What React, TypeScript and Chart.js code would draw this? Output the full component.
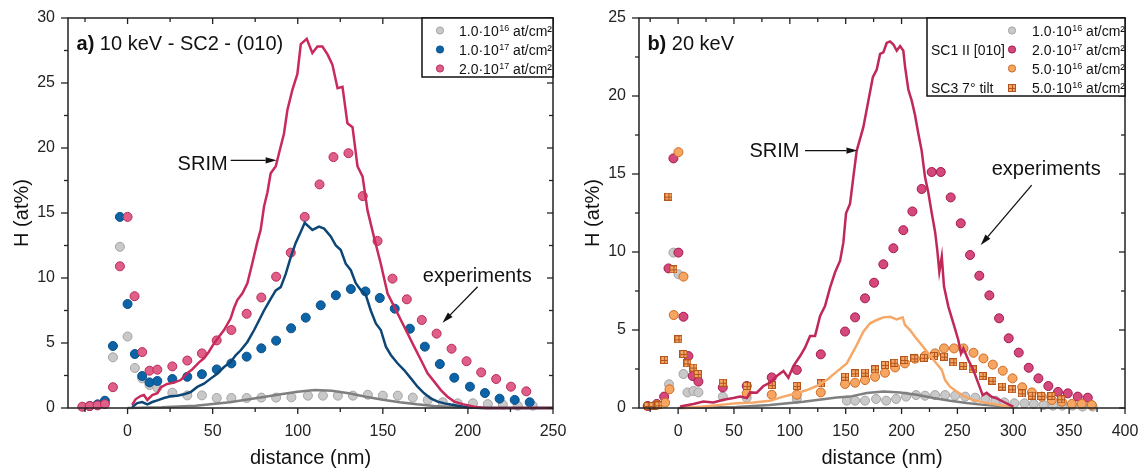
import React, { useEffect, useRef } from "react";
import { Chart, registerables } from "chart.js";
Chart.register(...registerables);

const FONT = "'Liberation Sans', Arial, sans-serif";
const AXIS_COLOR = "#222";
const TEXT_COLOR = "#111";

// ---------- Panel a) 10 keV ----------
const xTicksA = [0, 50, 100, 150, 200, 250];
const xMinorA = [-25, 25, 75, 125, 175, 225];
const yTicksA = [0, 5, 10, 15, 20, 25, 30];
const yMinorA = [2.5, 7.5, 12.5, 17.5, 22.5, 27.5];

const aPinkX = [-26.6, -22.2, -17.6, -13.3, -8.6, -4.5, 0, 4.1, 8.6, 12.9, 17.5, 26.3, 35.1, 43.7, 52.4, 61, 70, 78.6, 87.3, 95.9, 104.1, 112.8, 121, 129.8, 138.2, 146.9, 155.7, 164.1, 172.9, 181.6, 190.4, 199.2, 207.8, 216.6, 225.3, 234.3];
const aPinkY = [0.1, 0.15, 0.2, 0.3, 1.6, 10.9, 14.7, 8.6, 4.3, 2.87, 2.95, 3.2, 3.65, 4.2, 5.2, 6.0, 7.25, 8.5, 10.1, 11.95, 14.7, 17.2, 19.3, 19.6, 16.3, 12.85, 9.95, 8.36, 6.77, 5.72, 4.56, 3.6, 2.74, 2.23, 1.64, 1.28];

const aBlueX = [-22.2, -17.6, -13.3, -8.6, -4.5, 0, 4.3, 8.6, 12.9, 17.5, 26.3, 35.1, 43.7, 52.4, 61, 70, 78.6, 87.3, 96.1, 104.7, 113.5, 122.4, 131.2, 139.8, 148.2, 157, 165.9, 174.7, 183.5, 192, 201.2, 210, 218.6, 227.5, 236.3];
const aBlueY = [0.15, 0.28, 0.56, 4.77, 14.7, 8.0, 4.15, 2.46, 1.97, 2.08, 2.23, 2.4, 2.6, 2.97, 3.43, 3.95, 4.59, 5.18, 6.13, 6.95, 7.9, 8.67, 9.15, 8.97, 8.46, 7.64, 6.1, 4.72, 3.38, 2.33, 1.64, 1.15, 0.72, 0.62, 0.44];

const aGreyX = [-8.6, -4.5, 0, 4.3, 8.6, 12.9, 17.5, 26.3, 35.1, 43.7, 52.4, 61, 70, 78.6, 87.3, 96.3, 106, 114.8, 123.6, 132.4, 141.2, 150, 158.8, 167.6, 176.4, 185.2, 194, 202.9, 211.7, 220.5, 229.3, 238.1];
const aGreyY = [3.9, 12.4, 5.5, 3.08, 2.28, 1.77, 1.56, 1.18, 0.97, 0.97, 0.77, 0.77, 0.77, 0.8, 0.8, 0.82, 0.95, 0.95, 0.95, 0.95, 1.02, 0.95, 0.95, 0.8, 0.62, 0.44, 0.36, 0.36, 0.3, 0.26, 0.18, 0.18];

const aSrimPinkX = [2.7, 4.7, 7.6, 9.6, 11.6, 14.5, 17.5, 19.4, 23.3, 27.3, 31.2, 35.1, 38, 42, 44.9, 47.8, 50.8, 53.7, 56.7, 60.6, 62.5, 64.5, 67.5, 70.4, 73.3, 76.3, 78.2, 80.2, 82.2, 84.1, 87.1, 89, 91.9, 93.9, 96.9, 99.8, 101.8, 105.3, 108.6, 111.6, 114.5, 117.5, 120.4, 123.4, 126.3, 129.2, 132.2, 135.1, 138.1, 141, 144.9, 148.8, 152.8, 156.7, 160.6, 164.5, 168.4, 172.4, 176.3, 180.2, 184.1, 188, 192, 196.9, 203.7, 210.6, 250];
const aSrimPinkY = [0.23, 0.67, 0.92, 1.0, 0.62, 1.0, 1.13, 1.59, 1.85, 1.95, 2.15, 2.67, 2.97, 3.51, 3.82, 4.33, 4.97, 5.49, 6.0, 6.9, 7.67, 8.3, 8.82, 9.59, 11.13, 12.8, 13.7, 15.5, 16.6, 18.05, 18.6, 19.6, 21.1, 22.9, 24.5, 25.7, 28.0, 28.4, 27.3, 27.8, 27.8, 27.2, 26.4, 24.6, 24.7, 21.9, 21.6, 18.6, 17.8, 15.2, 13.1, 11.1, 8.8, 7.8, 6.77, 5.75, 4.72, 3.69, 2.67, 2.03, 1.38, 0.87, 0.49, 0.3, 0.1, 0.0, 0.0];

const aSrimBlueX = [2.7, 5.7, 8.6, 11.6, 14.5, 17.5, 21.4, 25.3, 29.2, 33.1, 37.1, 41, 44.9, 48.8, 52.7, 56.7, 60.6, 63.5, 66.5, 70.4, 74.3, 77.3, 80.2, 84.1, 87.1, 90, 92.9, 95.9, 98.8, 101.8, 104.1, 108.6, 112.5, 115.5, 119.4, 122.4, 125.3, 128.2, 131.2, 134.1, 137, 140, 142.9, 145.9, 148.8, 151.8, 154.7, 158.6, 162.5, 166.5, 170.4, 174.3, 178.2, 182.2, 188, 193.9, 199.8, 207.6, 250];
const aSrimBlueY = [0.08, 0.38, 0.46, 0.28, 0.46, 0.59, 0.77, 0.9, 0.95, 1.05, 1.23, 1.62, 1.87, 2.26, 2.64, 3.15, 3.54, 4.05, 4.44, 5.08, 5.98, 6.75, 7.5, 8.4, 9.05, 9.3, 10.3, 11.6, 12.7, 13.56, 14.25, 13.7, 13.95, 13.8, 13.2, 12.5, 12.15, 11.1, 10.6, 9.6, 9.08, 8.7, 7.5, 6.5, 6.0, 4.72, 4.08, 3.44, 2.92, 2.28, 1.64, 1.13, 0.74, 0.49, 0.3, 0.18, 0.05, 0, 0];

const aSrimGreyX = [0, 20, 40, 60, 80, 90, 100, 110, 120, 130, 140, 150, 160, 170, 180, 190, 200, 210, 250];
const aSrimGreyY = [0, 0.06, 0.18, 0.45, 0.85, 1.05, 1.25, 1.38, 1.33, 1.13, 0.87, 0.64, 0.44, 0.28, 0.16, 0.08, 0.03, 0, 0];

// ---------- Panel b) 20 keV ----------
const xTicksB = [0, 50, 100, 150, 200, 250, 300, 350, 400];
const xMinorB = [-25, 25, 75, 125, 175, 225, 275, 325, 375];
const yTicksB = [0, 5, 10, 15, 20, 25];
const yMinorB = [2.5, 7.5, 12.5, 17.5, 22.5];

const bPinkX = [-27.2, -19.1, -12.5, -8.6, -4.2, 0.3, 4.8, 9.2, 13.1, 18.2, 40, 61.4, 83.8, 106.2, 127.7, 149.4, 158.4, 167.3, 175.4, 183.7, 192.7, 201.6, 209.7, 218, 227, 235.1, 244, 253, 261.3, 269.6, 278.6, 287.3, 295.9, 304.9, 313.8, 322.5, 331.4, 340, 348.8, 357.7, 366.7];
const bPinkY = [0.13, 0.26, 0.73, 8.95, 16.0, 9.96, 5.85, 3.33, 2.05, 1.69, 1.32, 1.41, 1.96, 2.44, 3.44, 4.9, 5.81, 7.03, 8.03, 9.21, 10.24, 11.4, 12.6, 14.04, 15.13, 15.13, 13.5, 11.84, 9.81, 8.48, 7.22, 5.75, 4.47, 3.55, 2.58, 1.9, 1.41, 1.03, 0.94, 0.73, 0.66];

const bGreyX = [-8.1, -4.2, 0.3, 4.8, 8.4, 13.7, 18.2, 40, 61.4, 106.2, 151, 158.4, 167.3, 177.2, 186.2, 195.1, 204, 213, 221, 230, 239, 248, 257, 266, 275, 284, 292, 301, 310, 318.3, 327, 335.5, 344, 353, 362, 371];
const bGreyY = [1.52, 9.96, 8.57, 2.18, 1.0, 1.09, 1.0, 0.73, 0.66, 0.58, 0.47, 0.47, 0.47, 0.58, 0.47, 0.58, 0.73, 0.83, 0.79, 0.83, 0.83, 0.79, 0.73, 0.66, 0.58, 0.47, 0.36, 0.3, 0.3, 0.26, 0.19, 0.15, 0.15, 0.15, 0.09, 0.09];

const bOrangeX = [-19, -11.6, -7.7, -3.9, 0.3, 4.8, 61.4, 83.8, 106.2, 127.7, 149.4, 158.4, 167.3, 176.3, 185.2, 194.2, 203, 212, 221, 230, 238, 247, 255.4, 264.4, 273.3, 281.7, 290.6, 299.3, 308, 316.6, 325.5, 334.5, 343.5, 352.4, 361.3, 370.3];
const bOrangeY = [0.2, 0.34, 1.2, 5.96, 16.4, 8.42, 0.94, 0.85, 0.85, 1.0, 1.54, 1.62, 1.79, 2.0, 2.26, 2.6, 2.86, 3.16, 3.33, 3.5, 3.82, 3.82, 3.82, 3.54, 3.18, 2.78, 2.39, 1.9, 1.33, 1.0, 0.73, 0.51, 0.4, 0.26, 0.26, 0.19];

const bSquareX = [-27.2, -22.7, -17.6, -12.5, -8.7, -4.2, 0.3, 4.8, 8.4, 13.7, 17.6, 40, 61.4, 83.8, 106.2, 127.7, 149.4, 158.4, 167.3, 176.3, 185.2, 193.6, 202.5, 211.4, 220, 229, 238, 246.3, 255.2, 263.6, 272.5, 281.4, 290, 299, 307.6, 316.6, 325, 334.2, 342.9];
const bSquareY = [0.13, 0.13, 0.17, 3.08, 13.55, 8.89, 4.4, 3.46, 2.86, 2.59, 2.18, 1.62, 1.41, 1.47, 1.41, 1.58, 2.0, 2.22, 2.26, 2.48, 2.76, 2.9, 3.08, 3.18, 3.22, 3.33, 3.29, 2.93, 2.69, 2.48, 2.05, 1.75, 1.37, 1.2, 0.94, 0.79, 0.77, 0.77, 0.56];

const bSrimPinkX = [1.8, 13.7, 22.6, 31.6, 40.6, 49.5, 55.5, 61.5, 64.4, 70.4, 76.4, 82.3, 88.3, 94.3, 98.7, 103.2, 109.2, 113.6, 118.1, 122.6, 127.1, 131.5, 136, 140.5, 145, 147.9, 150.3, 153.9, 156.9, 159.9, 165.8, 170.3, 174.3, 177.8, 180.8, 183.7, 186.7, 189.7, 192.7, 195.7, 198.7, 201.6, 203.1, 206.1, 209.1, 212, 215, 218, 221, 224, 227, 230, 232, 233.8, 236, 238, 241.9, 246.4, 250.8, 253.2, 255.3, 259.8, 264.2, 268.7, 272.6, 276.2, 280.6, 285.1, 291.1, 297.1, 300];
const bSrimPinkY = [0.09, 0.26, 0.41, 0.36, 0.53, 0.64, 0.73, 0.64, 1.0, 0.98, 1.41, 1.62, 2.05, 2.37, 1.94, 2.69, 3.33, 3.87, 4.62, 4.62, 5.9, 6.54, 7.72, 8.7, 9.44, 10.6, 12.48, 13.1, 14.83, 16.5, 18.0, 19.7, 21.2, 21.7, 22.7, 22.8, 23.4, 23.5, 23.3, 22.9, 23.2, 22.9, 21.9, 20.4, 19.7, 18.8, 17.6, 16.5, 14.8, 13.8, 12.5, 11.3, 10.1, 8.74, 9.7, 7.78, 6.5, 5.43, 4.36, 3.5, 3.83, 3.08, 2.44, 1.58, 0.83, 0.98, 0.72, 0.62, 0.4, 0.19, 0.09];

const bSrimOrangeX = [4.8, 22.6, 37.5, 52.4, 67.3, 82.3, 94.2, 106.2, 115.2, 124.1, 133.1, 142, 151, 159.9, 165.8, 171.8, 177.8, 183.7, 189.7, 195.7, 201, 203.1, 207.6, 212, 218, 224, 230, 236, 239, 243.4, 249.4, 256.8, 264.2, 273.2, 282.1, 291.1, 300];
const bSrimOrangeY = [0, 0.09, 0.2, 0.3, 0.36, 0.47, 0.73, 0.94, 1.15, 1.41, 1.79, 2.33, 2.86, 4.04, 4.89, 5.43, 5.64, 5.81, 5.85, 5.68, 5.81, 5.32, 5.0, 4.57, 4.04, 3.5, 2.97, 2.44, 1.79, 1.37, 1.05, 0.72, 0.51, 0.36, 0.26, 0.15, 0.05];

const bSrimGreyX = [0, 52, 82, 112, 142, 153.9, 168.8, 183.7, 198.7, 213.6, 228.5, 243.4, 258.3, 273.2, 288, 300];
const bSrimGreyY = [0, 0.06, 0.2, 0.4, 0.67, 0.73, 0.96, 1.05, 1.0, 0.85, 0.64, 0.47, 0.32, 0.2, 0.12, 0.05];

// ---------- colours ----------
const C = {
  greyFill: "#c9c9c9", greyEdge: "#a3a3a3", greyLine: "#7f7f7f",
  blueFill: "#0c63a6", blueEdge: "#0a4f88", blueLine: "#0e4776",
  pinkFillA: "#df5f88", pinkEdgeA: "#b92a58", pinkLineA: "#c92a5c",
  pinkFillB: "#d4487c", pinkEdgeB: "#a3184e", pinkLineB: "#c02858",
  orangeFill: "#f6a660", orangeEdge: "#cf6a22", orangeLine: "#f6a868",
  squareFill: "#f3a664", squareEdge: "#b5551c",
};

function pts(xs: number[], ys: number[]) {
  return xs.map((x, i) => ({ x, y: ys[i] }));
}

function makeSquare(size: number) {
  const c = document.createElement("canvas");
  c.width = size;
  c.height = size;
  const g = c.getContext("2d")!;
  g.fillStyle = C.squareFill;
  g.fillRect(0, 0, size, size);
  g.strokeStyle = C.squareEdge;
  g.lineWidth = 1;
  g.strokeRect(0.5, 0.5, size - 1, size - 1);
  const m = Math.floor(size / 2) + 0.5;
  g.beginPath();
  g.moveTo(m, 1); g.lineTo(m, size - 1);
  g.moveTo(1, m); g.lineTo(size - 1, m);
  g.stroke();
  return c;
}

function lineDs(xs: number[], ys: number[], color: string) {
  return { data: pts(xs, ys), showLine: true, borderColor: color, borderWidth: 2.5, pointRadius: 0, fill: false, tension: 0, clip: false as any };
}
function pointDs(xs: number[], ys: number[], fill: string, edge: string, style?: any) {
  return {
    data: pts(xs, ys), showLine: false, pointRadius: 4.5, pointBackgroundColor: fill, pointBorderColor: edge,
    pointBorderWidth: 1, pointStyle: style || "circle", clip: false as any,
  };
}

function makePanelPlugin(cfg: any) {
  return {
    id: "panel" + cfg.id,
    afterDatasetsDraw(chart: any) {
      const { ctx, chartArea: ca, scales } = chart;
      const xs = scales.x, ys = scales.y;
      const X = (v: number) => xs.getPixelForValue(v);
      const Y = (v: number) => ys.getPixelForValue(v);
      ctx.save();
      const seg = (x1: number, y1: number, x2: number, y2: number) => {
        ctx.beginPath(); ctx.moveTo(x1, y1); ctx.lineTo(x2, y2); ctx.stroke();
      };
      // frame + ticks
      ctx.strokeStyle = AXIS_COLOR;
      ctx.lineWidth = 1.5;
      ctx.strokeRect(ca.left, ca.top, ca.right - ca.left, ca.bottom - ca.top);
      ctx.lineWidth = 1.3;
      cfg.xTicks.forEach((v: number) => { const p = X(v); seg(p, ca.bottom, p, ca.bottom + 6); seg(p, ca.top, p, ca.top + 6); });
      cfg.xMinor.forEach((v: number) => { const p = X(v); seg(p, ca.bottom, p, ca.bottom + 4); seg(p, ca.top, p, ca.top + 4); });
      cfg.yTicks.forEach((v: number) => { const p = Y(v); seg(ca.left - 7, p, ca.left, p); seg(ca.right - 6, p, ca.right, p); });
      cfg.yMinor.forEach((v: number) => { const p = Y(v); seg(ca.left - 4, p, ca.left, p); seg(ca.right - 4, p, ca.right, p); });

      // axis titles
      ctx.fillStyle = TEXT_COLOR;
      ctx.font = `20px ${FONT}`;
      ctx.textAlign = "center";
      ctx.textBaseline = "alphabetic";
      ctx.fillText("distance (nm)", (ca.left + ca.right) / 2, 464);
      ctx.save();
      ctx.translate(28, (ca.top + ca.bottom) / 2);
      ctx.rotate(-Math.PI / 2);
      ctx.fillText("H (at%)", 0, 0);
      ctx.restore();

      // panel title
      ctx.textAlign = "left";
      ctx.font = `bold 20px ${FONT}`;
      const tx = X(cfg.title.x), ty = Y(cfg.title.y);
      ctx.fillText(cfg.title.bold, tx, ty);
      const bw = ctx.measureText(cfg.title.bold).width;
      ctx.font = `20px ${FONT}`;
      ctx.fillText(cfg.title.rest, tx + bw, ty);

      // notes
      cfg.notes.forEach((n: any) => {
        ctx.textAlign = n.align;
        ctx.fillText(n.text, X(n.x), Y(n.y));
      });
      // arrows
      ctx.strokeStyle = "#111";
      ctx.fillStyle = "#111";
      ctx.lineWidth = 1.3;
      cfg.arrows.forEach((a: any) => {
        const x1 = X(a.x1), y1 = Y(a.y1), x2 = X(a.x2), y2 = Y(a.y2);
        const ang = Math.atan2(y2 - y1, x2 - x1);
        const L = 11, W = 3.2;
        const bx = x2 - L * Math.cos(ang), by = y2 - L * Math.sin(ang);
        seg(x1, y1, bx, by);
        ctx.beginPath();
        ctx.moveTo(x2, y2);
        ctx.lineTo(bx + W * Math.sin(ang), by - W * Math.cos(ang));
        ctx.lineTo(bx - W * Math.sin(ang), by + W * Math.cos(ang));
        ctx.closePath();
        ctx.fill();
      });

      // legend
      const lg = cfg.legend;
      const lx = ca.right - lg.w, ly = ca.top;
      ctx.fillStyle = "#fff";
      ctx.fillRect(lx, ly, lg.w, lg.h);
      ctx.strokeStyle = "#111";
      ctx.lineWidth = 1.5;
      ctx.strokeRect(lx, ly, lg.w, lg.h);
      lg.rows.forEach((r: any, i: number) => {
        const cy = ly + 12.5 + i * 19;
        const base = cy + 5.5;
        const mx = ca.right + lg.markerDx;
        if (r.square) {
          const s = cfg.legendSquare;
          ctx.drawImage(s, Math.round(mx - s.width / 2), Math.round(cy - s.height / 2));
        } else {
          ctx.beginPath();
          ctx.arc(mx, cy, 3.6, 0, Math.PI * 2);
          ctx.fillStyle = r.fill;
          ctx.fill();
          ctx.strokeStyle = r.edge;
          ctx.lineWidth = 1;
          ctx.stroke();
        }
        ctx.fillStyle = TEXT_COLOR;
        ctx.textAlign = "left";
        ctx.font = `14px ${FONT}`;
        let x = ca.right + lg.textDx;
        const p1 = r.mant + "\u00b710";
        ctx.fillText(p1, x, base);
        x += ctx.measureText(p1).width;
        ctx.font = `9px ${FONT}`;
        ctx.fillText(r.exp, x + 0.5, base - 5.3);
        x += ctx.measureText(r.exp).width + 0.5;
        ctx.font = `14px ${FONT}`;
        ctx.fillText(" at/cm\u00b2", x, base);
        if (r.left) ctx.fillText(r.left, ca.right + lg.leftDx, base);
      });
      ctx.restore();
    },
  };
}

function buildConfig(cfg: any) {
  return {
    type: "scatter",
    data: { datasets: cfg.datasets },
    options: {
      animation: false,
      responsive: false,
      events: [],
      layout: { padding: { top: 18, right: cfg.padRight, left: 0, bottom: 0 } },
      plugins: { legend: { display: false }, tooltip: { enabled: false } },
      scales: {
        x: {
          type: "linear", min: cfg.xMin, max: cfg.xMax,
          afterBuildTicks: (s: any) => { s.ticks = cfg.xTicks.map((v: number) => ({ value: v })); },
          afterFit: (s: any) => { s.height = 63; s.paddingLeft = 0; s.paddingRight = 0; },
          grid: { display: false, drawTicks: false },
          border: { display: false },
          ticks: { padding: 14, color: "#222", font: { family: FONT, size: 16 }, maxRotation: 0, autoSkip: false },
        },
        y: {
          type: "linear", min: cfg.yMin, max: cfg.yMax,
          afterBuildTicks: (s: any) => { s.ticks = cfg.yTicks.map((v: number) => ({ value: v })); },
          afterFit: (s: any) => { s.width = 68; s.paddingTop = 0; s.paddingBottom = 0; },
          grid: { display: false, drawTicks: false },
          border: { display: false },
          ticks: { padding: 13, color: "#222", font: { family: FONT, size: 16 }, autoSkip: false },
        },
      },
    },
    plugins: [makePanelPlugin(cfg)],
  };
}

function Panel({ which, left }: { which: "a" | "b"; left: number }) {
  const ref = useRef<HTMLCanvasElement>(null);
  useEffect(() => {
    const sq = makeSquare(8);
    const sqLegend = makeSquare(8);
    let cfg: any;
    if (which === "a") {
      cfg = {
        id: "a", xMin: -35, xMax: 250, yMin: 0, yMax: 30, padRight: 18,
        xTicks: xTicksA, xMinor: xMinorA, yTicks: yTicksA, yMinor: yMinorA,
        datasets: [
          lineDs(aSrimPinkX, aSrimPinkY, C.pinkLineA),
          lineDs(aSrimBlueX, aSrimBlueY, C.blueLine),
          lineDs(aSrimGreyX, aSrimGreyY, C.greyLine),
          pointDs(aPinkX, aPinkY, C.pinkFillA, C.pinkEdgeA),
          pointDs(aBlueX, aBlueY, C.blueFill, C.blueEdge),
          pointDs(aGreyX, aGreyY, C.greyFill, C.greyEdge),
        ],
        title: { bold: "a)", rest: " 10 keV - SC2 - (010)", x: -30, y: 27.54 },
        notes: [
          { text: "SRIM", x: 58.8, y: 18.27, align: "right" },
          { text: "experiments", x: 173.5, y: 9.72, align: "left" },
        ],
        arrows: [
          { x1: 60.6, y1: 19.05, x2: 87.6, y2: 19.05 },
          { x1: 205.7, y1: 9.33, x2: 185.1, y2: 6.56 },
        ],
        legend: {
          w: 131, h: 59, markerDx: -113, textDx: -94,
          rows: [
            { fill: C.greyFill, edge: C.greyEdge, mant: "1.0", exp: "16" },
            { fill: C.blueFill, edge: C.blueEdge, mant: "1.0", exp: "17" },
            { fill: C.pinkFillA, edge: C.pinkEdgeA, mant: "2.0", exp: "17" },
          ],
        },
        legendSquare: sqLegend,
      };
    } else {
      cfg = {
        id: "b", xMin: -35, xMax: 400, yMin: 0, yMax: 25, padRight: 17,
        xTicks: xTicksB, xMinor: xMinorB, yTicks: yTicksB, yMinor: yMinorB,
        datasets: [
          lineDs(bSrimPinkX, bSrimPinkY, C.pinkLineB),
          lineDs(bSrimOrangeX, bSrimOrangeY, C.orangeLine),
          lineDs(bSrimGreyX, bSrimGreyY, C.greyLine),
          pointDs(bSquareX, bSquareY, C.squareFill, C.squareEdge, sq),
          pointDs(bOrangeX, bOrangeY, C.orangeFill, C.orangeEdge),
          pointDs(bPinkX, bPinkY, C.pinkFillB, C.pinkEdgeB),
          pointDs(bGreyX, bGreyY, C.greyFill, C.greyEdge),
        ],
        title: { bold: "b)", rest: " 20 keV", x: -27.5, y: 22.98 },
        notes: [
          { text: "SRIM", x: 108.6, y: 16.11, align: "right" },
          { text: "experiments", x: 280.7, y: 14.94, align: "left" },
        ],
        arrows: [
          { x1: 113.6, y1: 16.5, x2: 160.5, y2: 16.5 },
          { x1: 316.5, y1: 14.29, x2: 270.9, y2: 10.45 },
        ],
        legend: {
          w: 198, h: 78, markerDx: -113, textDx: -93, leftDx: -194,
          rows: [
            { fill: C.greyFill, edge: C.greyEdge, mant: "1.0", exp: "16" },
            { fill: C.pinkFillB, edge: C.pinkEdgeB, mant: "2.0", exp: "17", left: "SC1 II [010]" },
            { fill: C.orangeFill, edge: C.orangeEdge, mant: "5.0", exp: "16" },
            { square: true, mant: "5.0", exp: "16", left: "SC3 7\u00b0 tilt" },
          ],
        },
        legendSquare: sqLegend,
      };
    }
    const chart = new Chart(ref.current!, buildConfig(cfg) as any);
    return () => chart.destroy();
  }, [which]);
  return (
    <canvas
      ref={ref}
      width={571}
      height={471}
      style={{ position: "absolute", left, top: 0, width: 571, height: 471, display: "block" }}
    />
  );
}

export default function App() {
  return (
    <div style={{ position: "fixed", left: 0, top: 0, width: 1142, height: 471, background: "#fff", overflow: "hidden" }}>
      <Panel which="a" left={0} />
      <Panel which="b" left={571} />
    </div>
  );
}
